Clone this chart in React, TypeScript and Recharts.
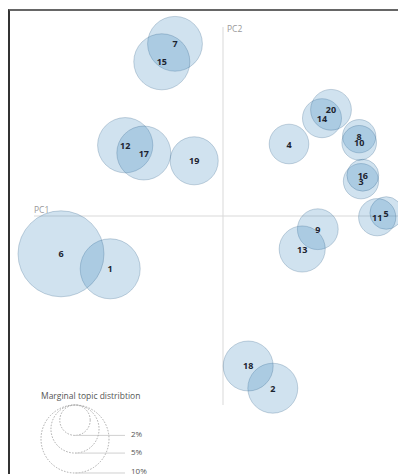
import React from 'react';
import { ScatterChart, Scatter, XAxis, YAxis, ZAxis, ReferenceLine, Customized } from 'recharts';

// LDA topics projected on the first two principal components
const topicIds = [1, 2, 3, 4, 5, 6, 7, 8, 9, 10, 11, 12, 13, 14, 15, 16, 17, 18, 19, 20];
const pc1Values = [-0.188, 0.083, 0.23, 0.11, 0.272, -0.27, -0.08, 0.227, 0.158, 0.227, 0.257, -0.163, 0.132, 0.165, -0.102, 0.233, -0.132, 0.042, -0.048, 0.18];
const pc2Values = [-0.088, -0.287, 0.058, 0.12, 0.005, -0.063, 0.287, 0.133, -0.022, 0.122, -0.002, 0.118, -0.055, 0.163, 0.257, 0.068, 0.105, -0.25, 0.092, 0.177];
// marginal topic distribution, in %
const topicShares = [7.8, 5.4, 2.7, 3.4, 2.3, 16.0, 6.5, 2.4, 3.6, 2.6, 3.0, 6.6, 4.6, 3.3, 6.8, 2.2, 6.3, 5.4, 5.0, 3.6];

const legendShares = [2, 5, 10];
const legendLabels = ['2%', '5%', '10%'];
const axisNames = ['PC1', 'PC2'];
const legendTitle = 'Marginal topic distribtion';

const data = topicIds.map((topic, i) => ({
  topic,
  pc1: pc1Values[i],
  pc2: pc2Values[i],
  share: topicShares[i],
}));

const FONT = "'Segoe UI', 'Open Sans', sans-serif";
const AREA_PER_PCT = Math.PI * 10.75 * 10.75; // bubble area for 1%
const radiusFor = (share: number) => Math.sqrt((AREA_PER_PCT * share) / Math.PI);

const Bubble = (props: any) => {
  const r = props.size != null ? Math.sqrt(props.size / Math.PI) : props.width / 2;
  return (
    <circle
      cx={props.cx}
      cy={props.cy}
      r={r}
      fill="#1f77b4"
      fillOpacity={0.21}
      stroke="#1f4e79"
      strokeOpacity={0.24}
      strokeWidth={1}
    />
  );
};

const BubbleLabel = (props: any) => (
  <text
    x={props.cx}
    y={props.cy}
    textAnchor="middle"
    dominantBaseline="central"
    fontFamily={FONT}
    fontSize={9}
    fontWeight={700}
    fill="#1c2430"
  >
    {props.payload.topic}
  </text>
);

const SizeLegend = () => {
  const cx = 65;
  const top = 394;
  return (
    <g>
      <text x={31} y={388} fontFamily={FONT} fontSize={8.5} fill="#555">
        {legendTitle}
      </text>
      {legendShares.map((s, i) => {
        const r = radiusFor(s);
        const bottom = top + 2 * r;
        return (
          <g key={s}>
            <circle cx={cx} cy={top + r} r={r} fill="none" stroke="#aaa" strokeDasharray="1.5 1.5" />
            <line x1={cx} y1={bottom} x2={115} y2={bottom} stroke="#d0d0d0" />
            <text x={121} y={bottom - 2} dominantBaseline="central" fontFamily={FONT} fontSize={8} fill="#555">
              {legendLabels[i]}
            </text>
          </g>
        );
      })}
    </g>
  );
};

const AxisName = (name: string, dx: number, dy: number) => (props: any) => (
  <text x={props.viewBox.x + dx} y={props.viewBox.y + dy} fontFamily={FONT} fontSize={8.5} fill="#999">
    {name}
  </text>
);

export default function App() {
  return (
    <div
      style={{
        position: 'relative',
        top: 1,
        width: 396,
        height: 464,
        borderTop: '2px solid #666',
        borderLeft: '2px solid #333',
        background: '#fff',
      }}
    >
      <ScatterChart width={396} height={464} margin={{ top: 0, right: 0, bottom: 0, left: 0 }}>
        <XAxis type="number" dataKey="pc1" domain={[-0.355, 0.305]} hide allowDataOverflow />
        <YAxis type="number" dataKey="pc2" domain={[-0.431667, 0.341667]} hide allowDataOverflow />
        <ZAxis type="number" dataKey="share" domain={[0, 20]} range={[0, AREA_PER_PCT * 20]} />
        <ReferenceLine
          segment={[{ x: -0.315, y: 0 }, { x: 0.305, y: 0 }]}
          stroke="#d9d9d9"
          label={AxisName(axisNames[0], 0, -3.5)}
        />
        <ReferenceLine
          segment={[{ x: 0, y: 0.315 }, { x: 0, y: -0.315 }]}
          stroke="#d9d9d9"
          label={AxisName(axisNames[1], 4, 5)}
        />
        <Scatter data={data} shape={Bubble} isAnimationActive={false} />
        <Scatter data={data} shape={BubbleLabel} isAnimationActive={false} />
        <Customized component={SizeLegend} />
      </ScatterChart>
    </div>
  );
}
